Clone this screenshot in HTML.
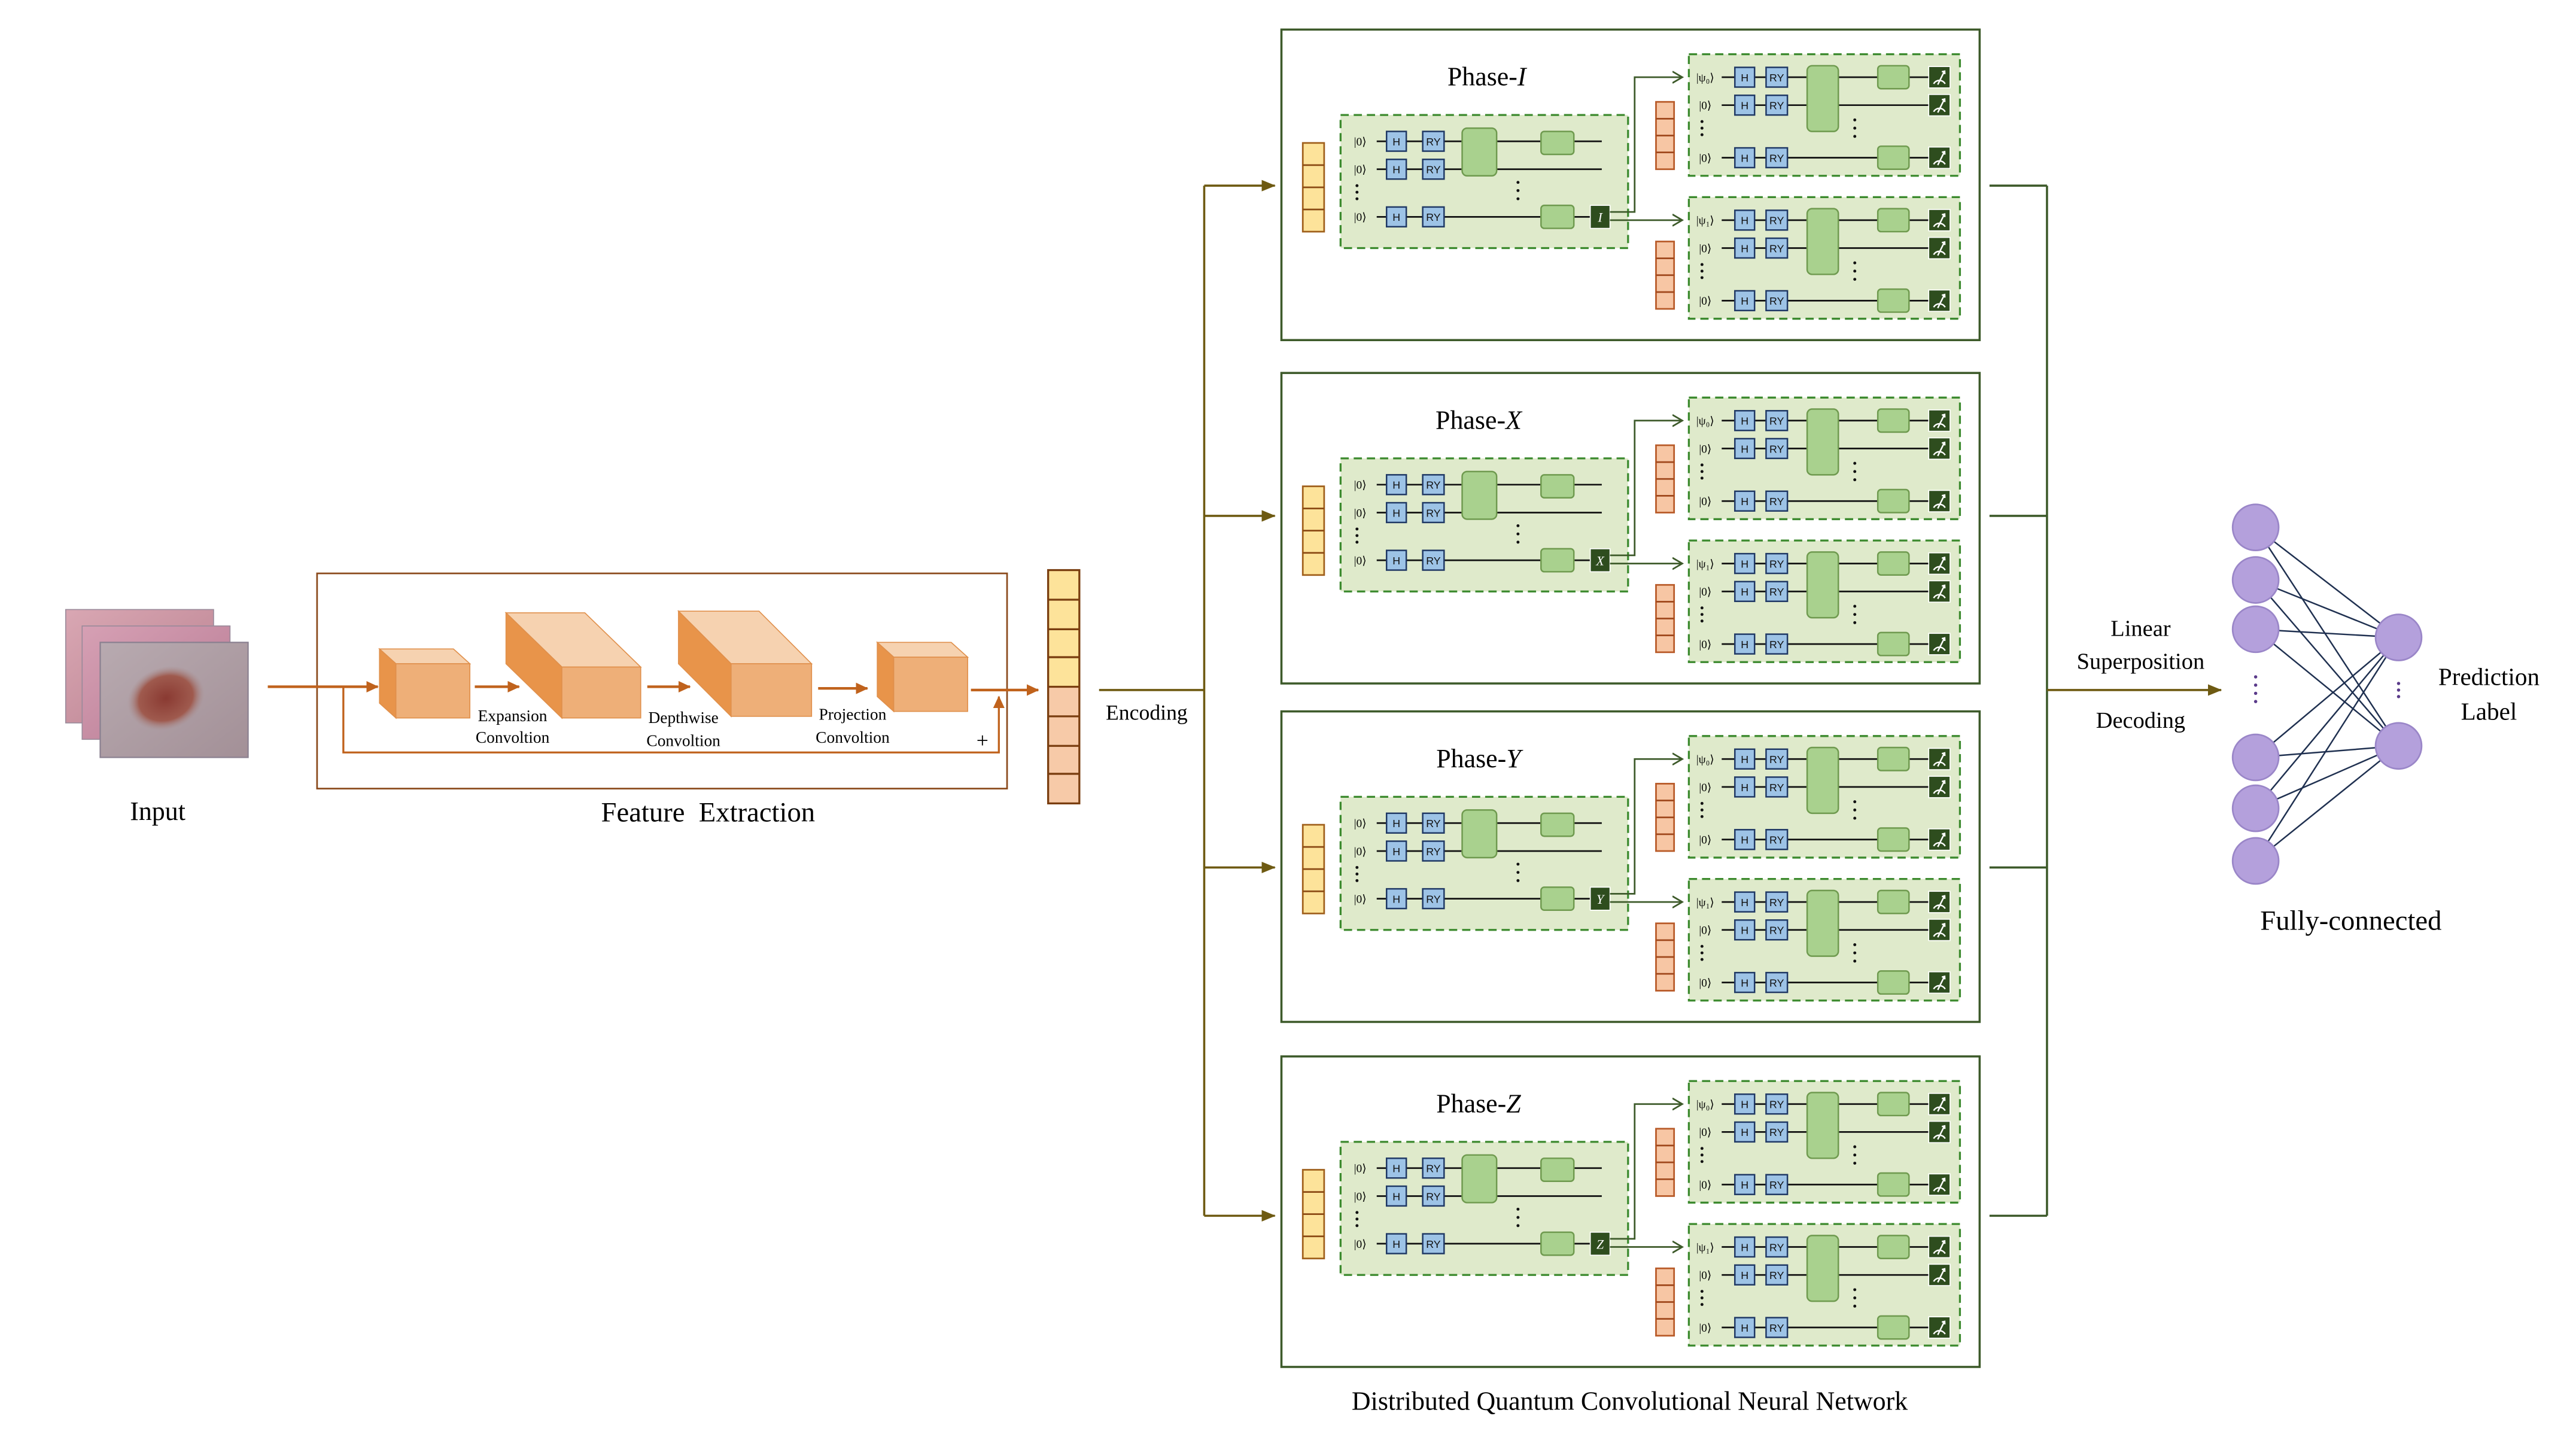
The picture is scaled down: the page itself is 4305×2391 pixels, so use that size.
<!DOCTYPE html>
<html><head><meta charset="utf-8">
<style>
html,body{margin:0;padding:0;background:#fff;}
svg{display:block;}
text{font-family:"Liberation Serif",serif;fill:#000;}
.g{font-family:"Liberation Sans",sans-serif;font-size:6.5px;text-anchor:middle;fill:#111;}
.k{font-size:7px;text-anchor:middle;}
.t{font-size:16px;text-anchor:middle;}
.l{font-size:10px;text-anchor:middle;}
</style></head><body>
<svg width="4305" height="2391" viewBox="0 0 1568 871" preserveAspectRatio="none" xmlns="http://www.w3.org/2000/svg">
<defs>
<marker id="ao" markerWidth="8" markerHeight="8" refX="7" refY="4" orient="auto" markerUnits="userSpaceOnUse"><path d="M0,0.5 L7.5,4 L0,7.5 Z" fill="#c0621c"/></marker>
<marker id="ag" markerWidth="9" markerHeight="8" refX="8" refY="4" orient="auto" markerUnits="userSpaceOnUse"><path d="M0,0.5 L8.5,4 L0,7.5 Z" fill="#6e5a12"/></marker>
<marker id="av" markerWidth="7" markerHeight="8" refX="6" refY="4" orient="auto" markerUnits="userSpaceOnUse"><path d="M0,0.5 L6,4 L0,7.5" fill="none" stroke="#3d5a2a" stroke-width="1"/></marker>
<linearGradient id="sk1" x1="0" y1="0" x2="1" y2="1"><stop offset="0" stop-color="#d9a7b3"/><stop offset="1" stop-color="#b9808f"/></linearGradient>
<linearGradient id="sk2" x1="0" y1="0" x2="1" y2="1"><stop offset="0" stop-color="#d6a0b4"/><stop offset="1" stop-color="#b77a93"/></linearGradient>
<linearGradient id="sk3" x1="0" y1="0" x2="1" y2="1"><stop offset="0" stop-color="#b8aab0"/><stop offset="1" stop-color="#a39097"/></linearGradient>
<radialGradient id="les" cx="0.5" cy="0.5" r="0.5"><stop offset="0" stop-color="#8a3a32"/><stop offset="0.7" stop-color="#9f5a4e"/><stop offset="1" stop-color="#a88a8a" stop-opacity="0"/></radialGradient>
<g id="meas"><rect width="13" height="13" fill="#2e4d1e" stroke="#fff" stroke-width="0.6"/><path d="M3,10.5 A4,4 0 0 1 10,10.5 M5.5,11 L9.5,3 M8,3.2 L9.7,2.8 L9.8,4.6" fill="none" stroke="#fff" stroke-width="0.9"/></g>
<g id="hb"><rect x="0" y="-6" width="12" height="12" fill="#9dc3e6" stroke="#1f3864" stroke-width="0.9"/></g>
<g id="ryb"><rect x="0" y="-6" width="13" height="12" fill="#9dc3e6" stroke="#1f3864" stroke-width="0.9"/></g>
<g id="sub">
 <rect x="0" y="0" width="165" height="74" fill="#dfeacb" stroke="#3c8a2e" stroke-width="1.2" stroke-dasharray="5,3"/>
 <g stroke="#111" stroke-width="1"><line x1="20" y1="14" x2="146" y2="14"/><line x1="20" y1="31" x2="146" y2="31"/><line x1="20" y1="63" x2="146" y2="63"/></g>
 <use href="#hb" x="28" y="14"/><use href="#hb" x="28" y="31"/><use href="#hb" x="28" y="63"/>
 <use href="#ryb" x="47" y="14"/><use href="#ryb" x="47" y="31"/><use href="#ryb" x="47" y="63"/>
 <rect x="72" y="7" width="19" height="40" rx="3" fill="#a9d18e" stroke="#6f9a4f" stroke-width="0.9"/>
 <rect x="115" y="7" width="19" height="14" rx="2" fill="#a9d18e" stroke="#6f9a4f" stroke-width="0.9"/>
 <rect x="115" y="56" width="19" height="14" rx="2" fill="#a9d18e" stroke="#6f9a4f" stroke-width="0.9"/>
 <use href="#meas" x="146" y="7.5"/><use href="#meas" x="146" y="24.5"/><use href="#meas" x="146" y="56.5"/>
 <g fill="#111"><circle cx="8" cy="41" r="0.9"/><circle cx="8" cy="45" r="0.9"/><circle cx="8" cy="49" r="0.9"/><circle cx="101" cy="40" r="0.9"/><circle cx="101" cy="45" r="0.9"/><circle cx="101" cy="50" r="0.9"/></g>
</g>
<g id="main">
 <rect x="0" y="0" width="175" height="81" fill="#dfeacb" stroke="#3c8a2e" stroke-width="1.2" stroke-dasharray="5,3"/>
 <g stroke="#111" stroke-width="1"><line x1="22" y1="16" x2="159" y2="16"/><line x1="22" y1="33" x2="159" y2="33"/><line x1="22" y1="62" x2="152" y2="62"/></g>
 <use href="#hb" x="28" y="16"/><use href="#hb" x="28" y="33"/><use href="#hb" x="28" y="62"/>
 <use href="#ryb" x="50" y="16"/><use href="#ryb" x="50" y="33"/><use href="#ryb" x="50" y="62"/>
 <rect x="74" y="8" width="21" height="29" rx="3" fill="#a9d18e" stroke="#6f9a4f" stroke-width="0.9"/>
 <rect x="122" y="10" width="20" height="14" rx="2" fill="#a9d18e" stroke="#6f9a4f" stroke-width="0.9"/>
 <rect x="122" y="55" width="20" height="14" rx="2" fill="#a9d18e" stroke="#6f9a4f" stroke-width="0.9"/>
 <rect x="152" y="55" width="12" height="14" fill="#2e4d1e" stroke="#fff" stroke-width="0.6"/>
 <g fill="#111"><circle cx="10" cy="43" r="0.9"/><circle cx="10" cy="47" r="0.9"/><circle cx="10" cy="51" r="0.9"/><circle cx="108" cy="41" r="0.9"/><circle cx="108" cy="46" r="0.9"/><circle cx="108" cy="51" r="0.9"/></g>
</g>
<g id="ocol"><rect x="0" y="0" width="11" height="41" fill="#f7c6a4" stroke="#b85a28" stroke-width="1"/><g stroke="#a0481c" stroke-width="1"><line x1="0" y1="10.25" x2="11" y2="10.25"/><line x1="0" y1="20.5" x2="11" y2="20.5"/><line x1="0" y1="30.75" x2="11" y2="30.75"/></g></g>
<g id="ycol"><rect x="0" y="0" width="13" height="54" fill="#fde39a" stroke="#a0601c" stroke-width="1"/><g stroke="#8b4a14" stroke-width="1"><line x1="0" y1="13.5" x2="13" y2="13.5"/><line x1="0" y1="27" x2="13" y2="27"/><line x1="0" y1="40.5" x2="13" y2="40.5"/></g></g>
</defs>

<rect x="40" y="371" width="90" height="69" fill="url(#sk1)" stroke="#9a8a9a" stroke-width="0.6"/>
<rect x="50" y="381" width="90" height="69" fill="url(#sk2)" stroke="#9a8a9a" stroke-width="0.6"/>
<rect x="61" y="391" width="90" height="70" fill="url(#sk3)" stroke="#8a8090" stroke-width="0.8"/>
<ellipse cx="101" cy="425" rx="24" ry="19" fill="url(#les)" transform="rotate(-20 101 425)"/>
<text class="t" x="96" y="499">Input</text>

<rect x="193" y="349" width="420" height="131" fill="none" stroke="#8b4a1c" stroke-width="1"/>
<line x1="163" y1="418" x2="230" y2="418" stroke="#c0621c" stroke-width="1.6" marker-end="url(#ao)"/>
<path d="M209,418 V458 H608 V424" fill="none" stroke="#c0621c" stroke-width="1.2" marker-end="url(#ao)"/>
<text x="598" y="455" font-size="13" text-anchor="middle">+</text>
<polygon points="231,395 276,395 286,404 241,404" fill="#f6d2b0" stroke="#e0904c" stroke-width="0.6"/>
<polygon points="231,395 241,404 241,437 231,428" fill="#e8944a" stroke="#e0904c" stroke-width="0.6"/>
<rect x="241" y="404" width="45" height="33" fill="#eeaf78" stroke="#e0904c" stroke-width="0.6"/>
<polygon points="308,373 356,373 390,406 342,406" fill="#f6d2b0" stroke="#e0904c" stroke-width="0.6"/>
<polygon points="308,373 342,406 342,437 308,404" fill="#e8944a" stroke="#e0904c" stroke-width="0.6"/>
<rect x="342" y="406" width="48" height="31" fill="#eeaf78" stroke="#e0904c" stroke-width="0.6"/>
<polygon points="413,372 462,372 494,404 445,404" fill="#f6d2b0" stroke="#e0904c" stroke-width="0.6"/>
<polygon points="413,372 445,404 445,436 413,404" fill="#e8944a" stroke="#e0904c" stroke-width="0.6"/>
<rect x="445" y="404" width="49" height="32" fill="#eeaf78" stroke="#e0904c" stroke-width="0.6"/>
<polygon points="534,391 579,391 589,400 544,400" fill="#f6d2b0" stroke="#e0904c" stroke-width="0.6"/>
<polygon points="534,391 544,400 544,433 534,424" fill="#e8944a" stroke="#e0904c" stroke-width="0.6"/>
<rect x="544" y="400" width="45" height="33" fill="#eeaf78" stroke="#e0904c" stroke-width="0.6"/>
<g stroke="#c0621c" stroke-width="1.6">
<line x1="289" y1="418" x2="316" y2="418" marker-end="url(#ao)"/>
<line x1="394" y1="418" x2="420" y2="418" marker-end="url(#ao)"/>
<line x1="498" y1="419" x2="528" y2="419" marker-end="url(#ao)"/>
<line x1="591" y1="420" x2="632" y2="420" marker-end="url(#ao)"/>
</g>
<text class="l" x="312" y="439">Expansion</text><text class="l" x="312" y="452">Convoltion</text>
<text class="l" x="416" y="440">Depthwise</text><text class="l" x="416" y="454">Convoltion</text>
<text class="l" x="519" y="438">Projection</text><text class="l" x="519" y="452">Convoltion</text>
<text x="431" y="500" font-size="17" text-anchor="middle">Feature&#160; Extraction</text>

<rect x="638" y="347" width="19" height="71" fill="#fde39a"/>
<rect x="638" y="418" width="19" height="71" fill="#f7caa8"/>
<rect x="638" y="347" width="19" height="142" fill="none" stroke="#7a3e10" stroke-width="1.2"/>
<g stroke="#7a3e10" stroke-width="1.2"><line x1="638" y1="365" x2="657" y2="365"/><line x1="638" y1="383" x2="657" y2="383"/><line x1="638" y1="400" x2="657" y2="400"/><line x1="638" y1="418" x2="657" y2="418"/><line x1="638" y1="436" x2="657" y2="436"/><line x1="638" y1="454" x2="657" y2="454"/><line x1="638" y1="471" x2="657" y2="471"/></g>

<text x="698" y="438" font-size="13" text-anchor="middle">Encoding</text>
<g stroke="#6e5a12" stroke-width="1.3" fill="none">
<line x1="669" y1="420" x2="733" y2="420"/>
<line x1="733" y1="113" x2="733" y2="740"/>
<line x1="733" y1="113" x2="776" y2="113" marker-end="url(#ag)"/>
<line x1="733" y1="314" x2="776" y2="314" marker-end="url(#ag)"/>
<line x1="733" y1="528" x2="776" y2="528" marker-end="url(#ag)"/>
<line x1="733" y1="740" x2="776" y2="740" marker-end="url(#ag)"/>
</g>
<g stroke="#3d5a2a" stroke-width="1.3" fill="none">
<line x1="1211" y1="113" x2="1246" y2="113"/>
<line x1="1211" y1="314" x2="1246" y2="314"/>
<line x1="1211" y1="528" x2="1246" y2="528"/>
<line x1="1211" y1="740" x2="1246" y2="740"/>
<line x1="1246" y1="113" x2="1246" y2="740"/>
</g>
<line x1="1246" y1="420" x2="1352" y2="420" stroke="#6e5a12" stroke-width="1.3" marker-end="url(#ag)"/>
<text x="1303" y="387" font-size="14" text-anchor="middle">Linear</text>
<text x="1303" y="407" font-size="14" text-anchor="middle">Superposition</text>
<text x="1303" y="443" font-size="14" text-anchor="middle">Decoding</text>

<g transform="translate(0,0)">
<rect x="780" y="18" width="425" height="189" fill="#fff" stroke="#3d5a2a" stroke-width="1.3"/>
<text class="t" x="905" y="52">Phase-<tspan font-style="italic">I</tspan></text>
<use href="#ycol" x="793" y="87"/>
<use href="#ocol" x="1008" y="62"/><use href="#ocol" x="1008" y="147"/>
<g transform="translate(816,70)"><use href="#main"/>
<text class="k" x="12" y="18.5">|0⟩</text><text class="k" x="12" y="35.5">|0⟩</text><text class="k" x="12" y="64.5">|0⟩</text>
<text class="g" x="34" y="18.5">H</text><text class="g" x="34" y="35.5">H</text><text class="g" x="34" y="64.5">H</text>
<text class="g" x="56.5" y="18.5">RY</text><text class="g" x="56.5" y="35.5">RY</text><text class="g" x="56.5" y="64.5">RY</text>
<text x="158" y="65" font-size="8" font-style="italic" text-anchor="middle" style="fill:#fff">I</text></g>
<g transform="translate(1028,33)"><use href="#sub"/>
<text class="k" x="10" y="16.5">|ψ₀⟩</text><text class="k" x="10" y="33.5">|0⟩</text><text class="k" x="10" y="65.5">|0⟩</text>
<text class="g" x="34" y="16.5">H</text><text class="g" x="34" y="33.5">H</text><text class="g" x="34" y="65.5">H</text>
<text class="g" x="53.5" y="16.5">RY</text><text class="g" x="53.5" y="33.5">RY</text><text class="g" x="53.5" y="65.5">RY</text></g>
<g transform="translate(1028,120)"><use href="#sub"/>
<text class="k" x="10" y="16.5">|ψ₁⟩</text><text class="k" x="10" y="33.5">|0⟩</text><text class="k" x="10" y="65.5">|0⟩</text>
<text class="g" x="34" y="16.5">H</text><text class="g" x="34" y="33.5">H</text><text class="g" x="34" y="65.5">H</text>
<text class="g" x="53.5" y="16.5">RY</text><text class="g" x="53.5" y="33.5">RY</text><text class="g" x="53.5" y="65.5">RY</text></g>
<path d="M980,129 H995 V47 H1024" fill="none" stroke="#3d5a2a" stroke-width="1" marker-end="url(#av)"/>
<path d="M980,134 H1024" fill="none" stroke="#3d5a2a" stroke-width="1" marker-end="url(#av)"/>
</g>

<g transform="translate(0,209)">
<rect x="780" y="18" width="425" height="189" fill="#fff" stroke="#3d5a2a" stroke-width="1.3"/>
<text class="t" x="900" y="52">Phase-<tspan font-style="italic">X</tspan></text>
<use href="#ycol" x="793" y="87"/>
<use href="#ocol" x="1008" y="62"/><use href="#ocol" x="1008" y="147"/>
<g transform="translate(816,70)"><use href="#main"/>
<text class="k" x="12" y="18.5">|0⟩</text><text class="k" x="12" y="35.5">|0⟩</text><text class="k" x="12" y="64.5">|0⟩</text>
<text class="g" x="34" y="18.5">H</text><text class="g" x="34" y="35.5">H</text><text class="g" x="34" y="64.5">H</text>
<text class="g" x="56.5" y="18.5">RY</text><text class="g" x="56.5" y="35.5">RY</text><text class="g" x="56.5" y="64.5">RY</text>
<text x="158" y="65" font-size="8" font-style="italic" text-anchor="middle" style="fill:#fff">X</text></g>
<g transform="translate(1028,33)"><use href="#sub"/>
<text class="k" x="10" y="16.5">|ψ₀⟩</text><text class="k" x="10" y="33.5">|0⟩</text><text class="k" x="10" y="65.5">|0⟩</text>
<text class="g" x="34" y="16.5">H</text><text class="g" x="34" y="33.5">H</text><text class="g" x="34" y="65.5">H</text>
<text class="g" x="53.5" y="16.5">RY</text><text class="g" x="53.5" y="33.5">RY</text><text class="g" x="53.5" y="65.5">RY</text></g>
<g transform="translate(1028,120)"><use href="#sub"/>
<text class="k" x="10" y="16.5">|ψ₁⟩</text><text class="k" x="10" y="33.5">|0⟩</text><text class="k" x="10" y="65.5">|0⟩</text>
<text class="g" x="34" y="16.5">H</text><text class="g" x="34" y="33.5">H</text><text class="g" x="34" y="65.5">H</text>
<text class="g" x="53.5" y="16.5">RY</text><text class="g" x="53.5" y="33.5">RY</text><text class="g" x="53.5" y="65.5">RY</text></g>
<path d="M980,129 H995 V47 H1024" fill="none" stroke="#3d5a2a" stroke-width="1" marker-end="url(#av)"/>
<path d="M980,134 H1024" fill="none" stroke="#3d5a2a" stroke-width="1" marker-end="url(#av)"/>
</g>

<g transform="translate(0,415)">
<rect x="780" y="18" width="425" height="189" fill="#fff" stroke="#3d5a2a" stroke-width="1.3"/>
<text class="t" x="900" y="52">Phase-<tspan font-style="italic">Y</tspan></text>
<use href="#ycol" x="793" y="87"/>
<use href="#ocol" x="1008" y="62"/><use href="#ocol" x="1008" y="147"/>
<g transform="translate(816,70)"><use href="#main"/>
<text class="k" x="12" y="18.5">|0⟩</text><text class="k" x="12" y="35.5">|0⟩</text><text class="k" x="12" y="64.5">|0⟩</text>
<text class="g" x="34" y="18.5">H</text><text class="g" x="34" y="35.5">H</text><text class="g" x="34" y="64.5">H</text>
<text class="g" x="56.5" y="18.5">RY</text><text class="g" x="56.5" y="35.5">RY</text><text class="g" x="56.5" y="64.5">RY</text>
<text x="158" y="65" font-size="8" font-style="italic" text-anchor="middle" style="fill:#fff">Y</text></g>
<g transform="translate(1028,33)"><use href="#sub"/>
<text class="k" x="10" y="16.5">|ψ₀⟩</text><text class="k" x="10" y="33.5">|0⟩</text><text class="k" x="10" y="65.5">|0⟩</text>
<text class="g" x="34" y="16.5">H</text><text class="g" x="34" y="33.5">H</text><text class="g" x="34" y="65.5">H</text>
<text class="g" x="53.5" y="16.5">RY</text><text class="g" x="53.5" y="33.5">RY</text><text class="g" x="53.5" y="65.5">RY</text></g>
<g transform="translate(1028,120)"><use href="#sub"/>
<text class="k" x="10" y="16.5">|ψ₁⟩</text><text class="k" x="10" y="33.5">|0⟩</text><text class="k" x="10" y="65.5">|0⟩</text>
<text class="g" x="34" y="16.5">H</text><text class="g" x="34" y="33.5">H</text><text class="g" x="34" y="65.5">H</text>
<text class="g" x="53.5" y="16.5">RY</text><text class="g" x="53.5" y="33.5">RY</text><text class="g" x="53.5" y="65.5">RY</text></g>
<path d="M980,129 H995 V47 H1024" fill="none" stroke="#3d5a2a" stroke-width="1" marker-end="url(#av)"/>
<path d="M980,134 H1024" fill="none" stroke="#3d5a2a" stroke-width="1" marker-end="url(#av)"/>
</g>

<g transform="translate(0,625)">
<rect x="780" y="18" width="425" height="189" fill="#fff" stroke="#3d5a2a" stroke-width="1.3"/>
<text class="t" x="900" y="52">Phase-<tspan font-style="italic">Z</tspan></text>
<use href="#ycol" x="793" y="87"/>
<use href="#ocol" x="1008" y="62"/><use href="#ocol" x="1008" y="147"/>
<g transform="translate(816,70)"><use href="#main"/>
<text class="k" x="12" y="18.5">|0⟩</text><text class="k" x="12" y="35.5">|0⟩</text><text class="k" x="12" y="64.5">|0⟩</text>
<text class="g" x="34" y="18.5">H</text><text class="g" x="34" y="35.5">H</text><text class="g" x="34" y="64.5">H</text>
<text class="g" x="56.5" y="18.5">RY</text><text class="g" x="56.5" y="35.5">RY</text><text class="g" x="56.5" y="64.5">RY</text>
<text x="158" y="65" font-size="8" font-style="italic" text-anchor="middle" style="fill:#fff">Z</text></g>
<g transform="translate(1028,33)"><use href="#sub"/>
<text class="k" x="10" y="16.5">|ψ₀⟩</text><text class="k" x="10" y="33.5">|0⟩</text><text class="k" x="10" y="65.5">|0⟩</text>
<text class="g" x="34" y="16.5">H</text><text class="g" x="34" y="33.5">H</text><text class="g" x="34" y="65.5">H</text>
<text class="g" x="53.5" y="16.5">RY</text><text class="g" x="53.5" y="33.5">RY</text><text class="g" x="53.5" y="65.5">RY</text></g>
<g transform="translate(1028,120)"><use href="#sub"/>
<text class="k" x="10" y="16.5">|ψ₁⟩</text><text class="k" x="10" y="33.5">|0⟩</text><text class="k" x="10" y="65.5">|0⟩</text>
<text class="g" x="34" y="16.5">H</text><text class="g" x="34" y="33.5">H</text><text class="g" x="34" y="65.5">H</text>
<text class="g" x="53.5" y="16.5">RY</text><text class="g" x="53.5" y="33.5">RY</text><text class="g" x="53.5" y="65.5">RY</text></g>
<path d="M980,129 H995 V47 H1024" fill="none" stroke="#3d5a2a" stroke-width="1" marker-end="url(#av)"/>
<path d="M980,134 H1024" fill="none" stroke="#3d5a2a" stroke-width="1" marker-end="url(#av)"/>
</g>

<text x="992" y="858" font-size="16" text-anchor="middle">Distributed Quantum Convolutional Neural Network</text>

<g stroke="#1f3050" stroke-width="0.9">
<line x1="1373" y1="321" x2="1460" y2="388"/><line x1="1373" y1="321" x2="1460" y2="454"/>
<line x1="1373" y1="353" x2="1460" y2="388"/><line x1="1373" y1="353" x2="1460" y2="454"/>
<line x1="1373" y1="383" x2="1460" y2="388"/><line x1="1373" y1="383" x2="1460" y2="454"/>
<line x1="1373" y1="461" x2="1460" y2="388"/><line x1="1373" y1="461" x2="1460" y2="454"/>
<line x1="1373" y1="492" x2="1460" y2="388"/><line x1="1373" y1="492" x2="1460" y2="454"/>
<line x1="1373" y1="524" x2="1460" y2="388"/><line x1="1373" y1="524" x2="1460" y2="454"/>
</g>
<g fill="#b4a0dc" stroke="#9a86c8" stroke-width="1">
<circle cx="1373" cy="321" r="14"/><circle cx="1373" cy="353" r="14"/><circle cx="1373" cy="383" r="14"/>
<circle cx="1373" cy="461" r="14"/><circle cx="1373" cy="492" r="14"/><circle cx="1373" cy="524" r="14"/>
<circle cx="1460" cy="388" r="14"/><circle cx="1460" cy="454" r="14"/>
</g>
<g fill="#5a3a8a"><circle cx="1373" cy="412" r="1"/><circle cx="1373" cy="417" r="1"/><circle cx="1373" cy="422" r="1"/><circle cx="1373" cy="427" r="1"/><circle cx="1460" cy="416" r="1"/><circle cx="1460" cy="420" r="1"/><circle cx="1460" cy="424" r="1"/></g>
<text x="1515" y="417" font-size="15" text-anchor="middle">Prediction</text>
<text x="1515" y="438" font-size="15" text-anchor="middle">Label</text>
<text x="1431" y="566" font-size="17" text-anchor="middle">Fully-connected</text>
</svg>
</body></html>
